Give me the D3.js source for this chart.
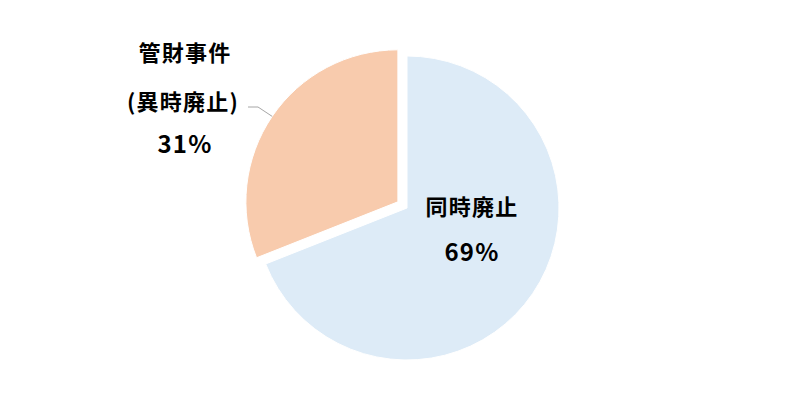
<!DOCTYPE html>
<html>
<head>
<meta charset="utf-8">
<script src="https://cdn.jsdelivr.net/npm/d3@7"></script>
<style>
  body { margin: 0; background: #fff; }
  text { font-family: "Noto Sans CJK JP", "Noto Sans", sans-serif; font-weight: bold; fill: #000; }
</style>
</head>
<body>
<div id="chart"></div>
<script>
// data
var categories = ["同時廃止", "管財事件\n(異時廃止)"];
var values = [69, 31];
var colors = ["#DDEBF7", "#F8CBAD"];

var width = 800, height = 400;
var cx = 407, cy = 208, radius = 152;
var explode = 11;

var svg = d3.select("#chart")
    .append("svg")
    .attr("width", width)
    .attr("height", height);

var g = svg.append("g")
    .attr("transform", "translate(" + cx + "," + cy + ")");

var pie = d3.pie().sort(null).value(function(d) { return d; });
var arcs = pie(values);

var arc = d3.arc().innerRadius(0).outerRadius(radius);

// offset for the exploded slice
function shift(d, i) {
  if (i !== 1) return [0, 0];
  var a = (d.startAngle + d.endAngle) / 2;
  return [Math.sin(a) * explode, -Math.cos(a) * explode];
}

g.selectAll("path")
    .data(arcs)
    .enter()
    .append("path")
    .attr("d", arc)
    .attr("transform", function(d, i) {
      var s = shift(d, i);
      return "translate(" + s[0] + "," + s[1] + ")";
    })
    .style("fill", function(d, i) { return colors[i]; })
    .style("stroke", "#fff")
    .style("stroke-width", 1);

// labels
var lineH = 46;
var fontSize = 22;
var pctSize = 24;

// inside label for the big slice
var inPos = [65, -1];
var t0 = g.append("text")
    .attr("text-anchor", "middle")
    .style("font-size", fontSize + "px")
    .style("letter-spacing", "1.2px");
t0.append("tspan").attr("x", inPos[0]).attr("y", inPos[1]).attr("dy", "0.35em").text(categories[0]);
t0.append("tspan").attr("x", inPos[0]).attr("y", inPos[1] + lineH).attr("dy", "0.35em")
    .style("font-size", pctSize + "px").text(values[0] + "%");

// outside label for the small slice
var outPos = [-222, -155];
var lines = categories[1].split("\n").concat([values[1] + "%"]);
var t1 = g.append("text")
    .attr("text-anchor", "middle")
    .style("font-size", fontSize + "px")
    .style("letter-spacing", "1.2px");
lines.forEach(function(l, k) {
  t1.append("tspan")
    .attr("x", outPos[0] + (k === 1 ? -2 : 0))
    .attr("y", outPos[1] + k * (k === 2 ? 46 : 49))
    .attr("dy", "0.35em")
    .style("font-size", (k === 2 ? pctSize : fontSize) + "px")
    .text(l);
});

// leader line from label to slice edge
var d1 = arcs[1];
var s1 = shift(d1, 1);
var la = (d1.startAngle + d1.endAngle) / 2;
var edge = [Math.sin(la) * radius + s1[0], -Math.cos(la) * radius + s1[1]];
var lineStart = [outPos[0] + 63, outPos[1] + 54];
g.append("polyline")
    .attr("points", [lineStart, [lineStart[0] + 10, lineStart[1]], edge].map(function(p) { return p.join(","); }).join(" "))
    .style("fill", "none")
    .style("stroke", "#a6a6a6")
    .style("stroke-width", 1);
</script>
</body>
</html>
